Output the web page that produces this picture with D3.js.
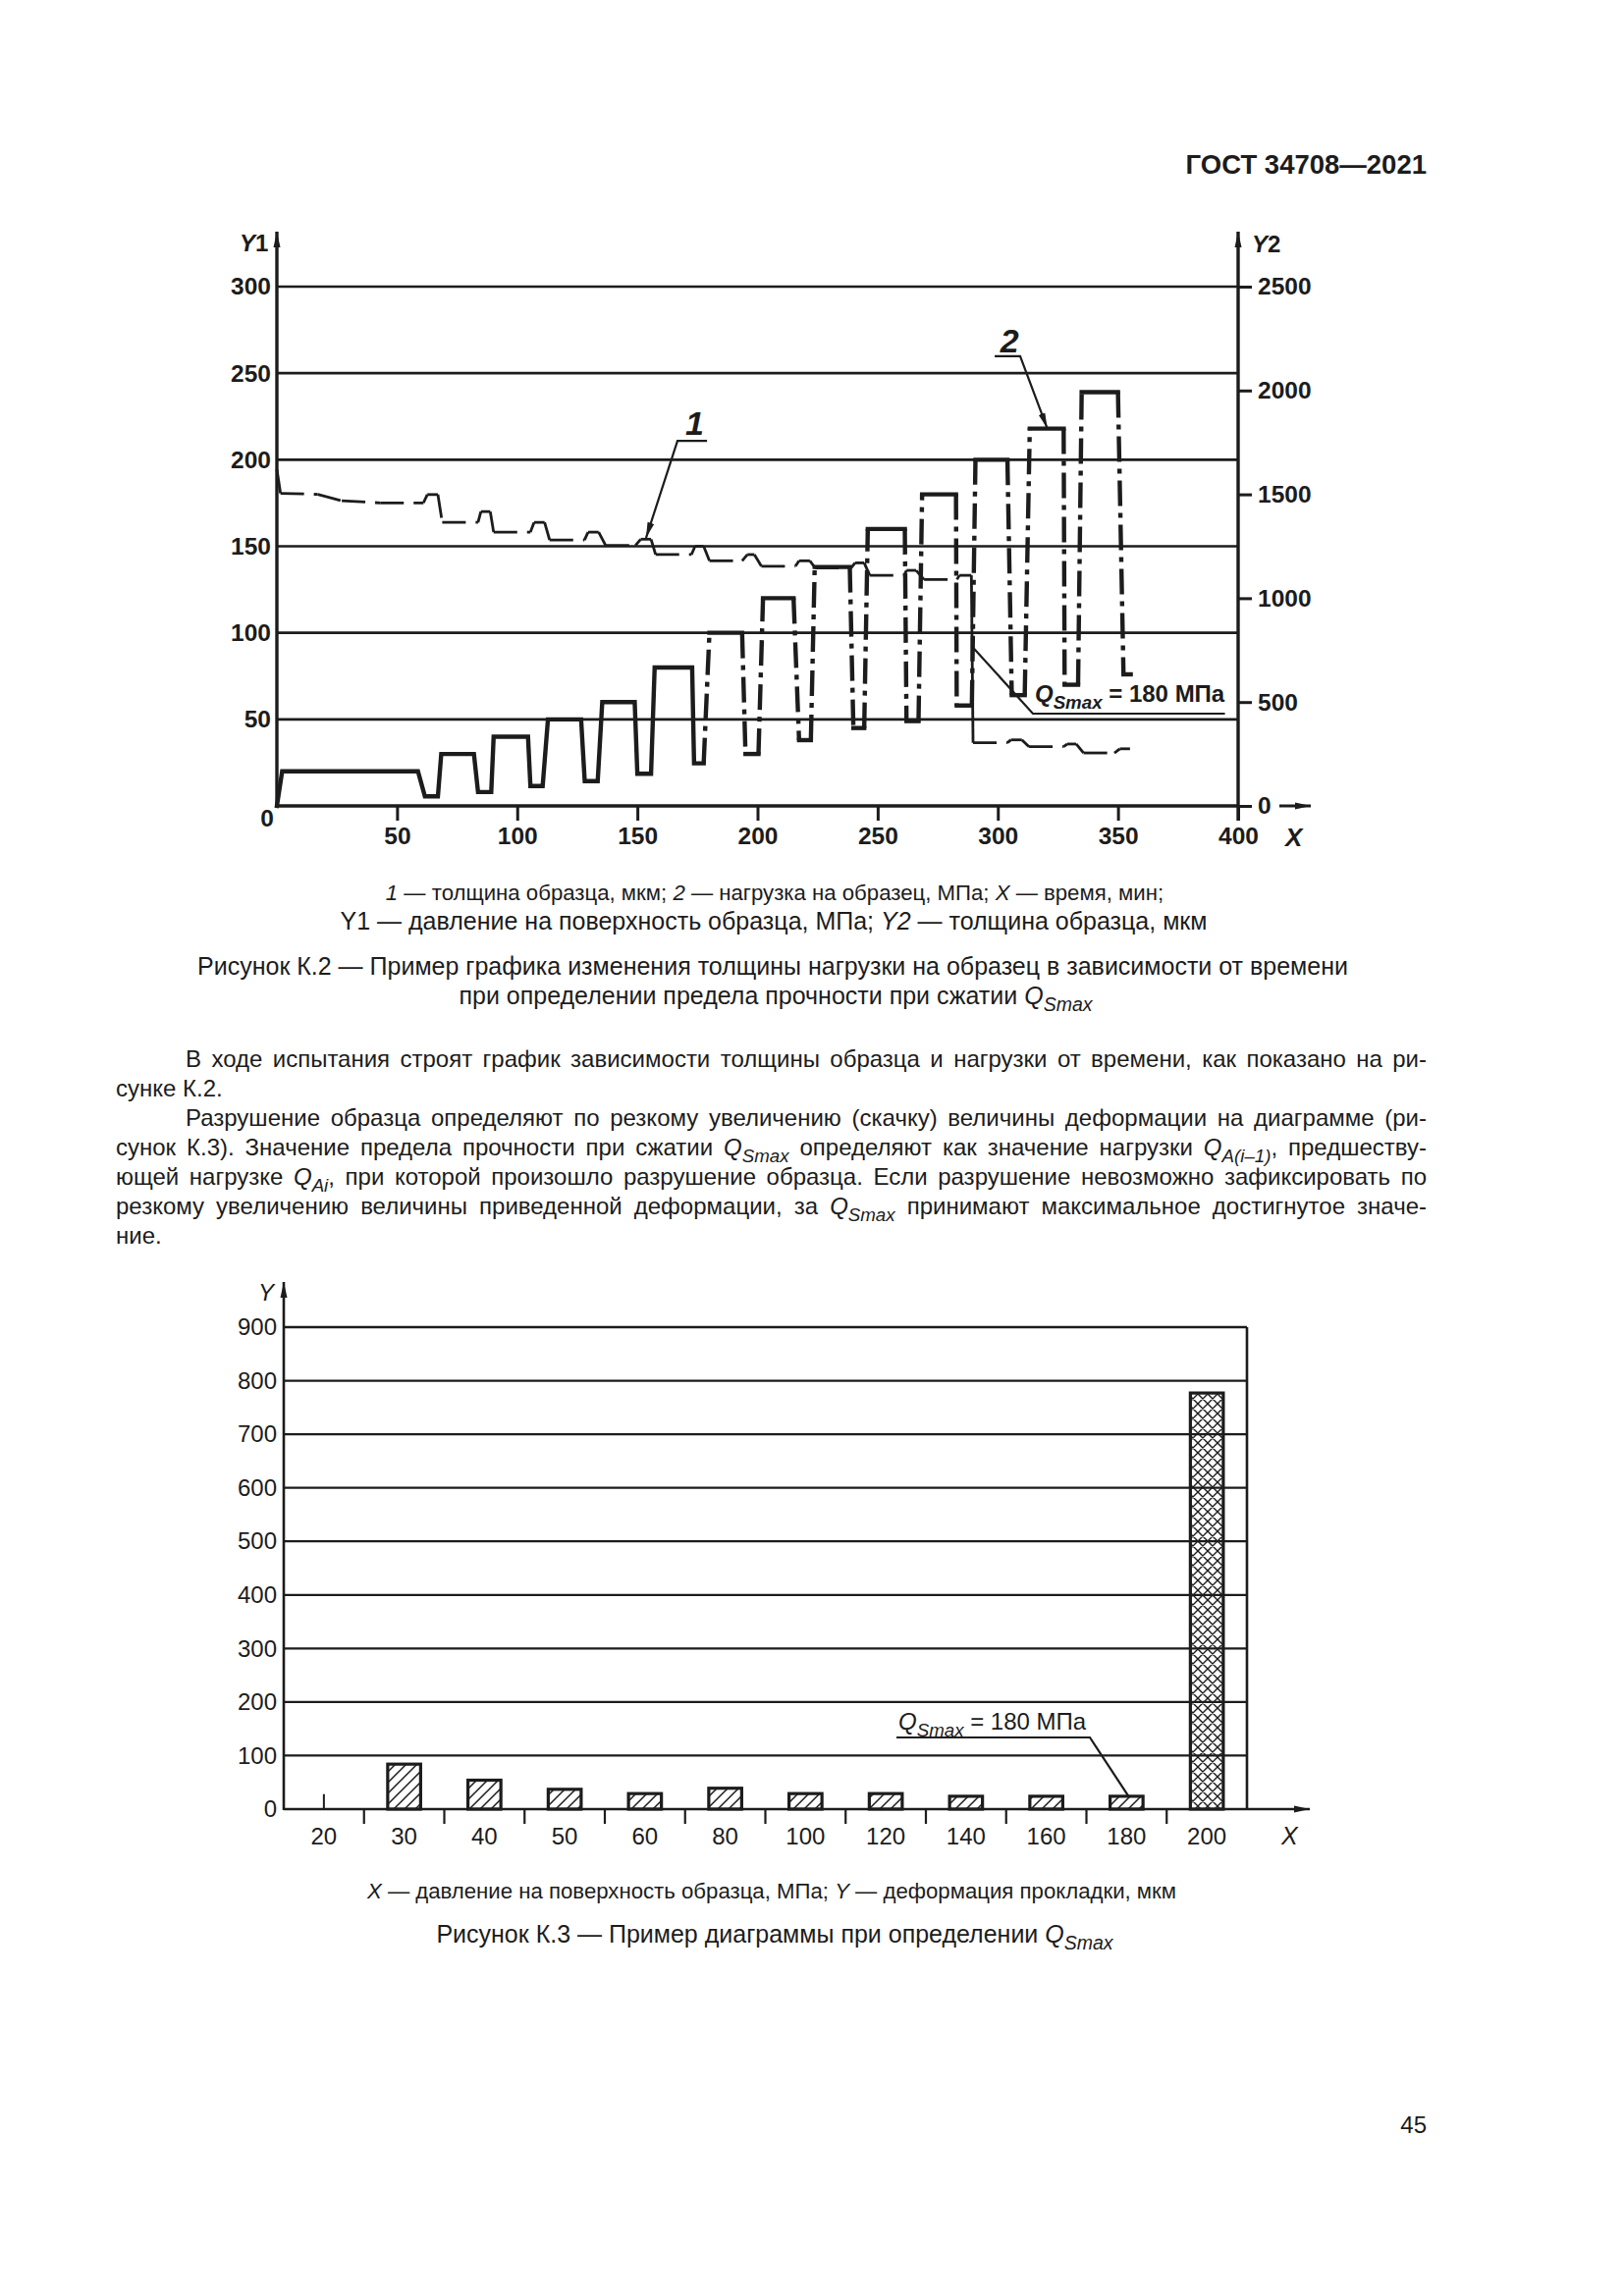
<!DOCTYPE html>
<meta charset="utf-8">
<style>
    body { margin: 0; background: #fff; }
    svg { display: block; font-family: "Liberation Sans", Arial, sans-serif; }
</style>
<svg width="1654" height="2339"></svg>
<script src="https://d3js.org/d3.v7.min.js"></script>

<script>
    // Рисунок К.2: нагрузка (Y1, МПа) и толщина образца (Y2, мкм) по времени (мин)
    var loadTime = [0, 2.2, 58.7, 61.6, 67, 68.4, 82, 83.7, 89.2, 90.2, 104.5, 105.5, 110.6, 112.8,
        126.6, 128.1, 133.5, 135.4, 148.9, 150, 155.7, 157.2, 172.8, 173.6, 177.6, 180, 193.6, 195,
        200.4, 202.3, 215, 217.3, 222.2, 223.8, 238.4, 239.9, 244.4, 245.9, 261.3, 262, 267, 268.5,
        282.6, 282.9, 289.2, 290.7, 304, 305.8, 311.2, 313.3, 327.4, 327.8, 333.4, 334.9, 350, 352.3, 355.3];
    var loadValue = [0, 20, 20, 5.5, 5.5, 30, 30, 8, 8, 40, 40, 11.5, 11.5, 50,
        50, 14.3, 14.3, 60, 60, 18.6, 18.6, 80, 80, 24.6, 24.6, 100, 100, 30,
        30, 120, 120, 38, 38, 138, 138, 45, 45, 160, 160, 49, 49, 180,
        180, 58, 58, 200, 200, 64, 64, 218, 218, 70, 70, 239, 239, 76, 76];

    var thickTime = [0, 1.5, 17, 27, 43, 61, 62.6, 67, 68.8, 83.7, 84.9, 88.8, 90.2, 105.5, 107, 111.4,
        113.5, 128, 129.5, 133.9, 136.8, 149.2, 151.4, 155.7, 157.6, 172.5, 174, 177.6, 180, 193.6,
        195.8, 198.7, 201.6, 215.8, 217.3, 221.8, 224, 239, 240.6, 244.4, 246.7, 261, 262, 266,
        269.3, 283, 284, 289, 289.7, 304, 305.5, 310, 313, 327.4, 328.9, 332.6, 335.7, 348.5, 350.8, 355];
    var thickValue = [1620, 1505, 1500, 1469, 1459, 1459, 1499, 1499, 1365, 1365, 1417, 1417, 1318, 1318, 1365, 1365,
        1280, 1280, 1318, 1318, 1254, 1254, 1284, 1284, 1210, 1210, 1250, 1250, 1180, 1180,
        1210, 1210, 1154, 1154, 1180, 1180, 1146, 1146, 1170, 1170, 1110, 1110, 1134, 1134,
        1090, 1090, 1110, 1110, 304, 304, 318, 318, 285, 285, 298, 298, 255, 255, 275, 275];

    var timeTicks = [50, 100, 150, 200, 250, 300, 350, 400];
    var y1Ticks = [50, 100, 150, 200, 250, 300];
    var y2Ticks = [0, 500, 1000, 1500, 2000, 2500];

    // Рисунок К.3: деформация прокладки (мкм) по давлению (МПа)
    var pressures = ["20", "30", "40", "50", "60", "80", "100", "120", "140", "160", "180", "200"];
    var deformation = [28, 84, 54, 37, 29, 39, 29, 29, 24, 24, 24, 777];
    var defTicks = [0, 100, 200, 300, 400, 500, 600, 700, 800, 900];
</script>

<script>
    var svg = d3.select("svg");
    var ink = "#1c1c1c";

    svg.append("rect").attr("width", 1654).attr("height", 2339).attr("fill", "#fff");

    var defs = svg.append("defs");
    defs.append("marker").attr("id", "arr")
        .attr("viewBox", "0 0 16 8").attr("refX", 16).attr("refY", 4)
        .attr("markerWidth", 16).attr("markerHeight", 8)
        .attr("markerUnits", "userSpaceOnUse").attr("orient", "auto")
        .append("path").attr("d", "M0,0.5L16,4L0,7.5Z").attr("fill", ink);

    var hatch = defs.append("pattern").attr("id", "hatch")
        .attr("patternUnits", "userSpaceOnUse").attr("width", 11).attr("height", 11);
    hatch.append("path").attr("d", "M0,11L11,0M-2,2L2,-2M9,13L13,9")
        .attr("stroke", ink).attr("stroke-width", 1.5);

    var cross = defs.append("pattern").attr("id", "cross")
        .attr("patternUnits", "userSpaceOnUse").attr("width", 10).attr("height", 10);
    cross.append("path").attr("d", "M0,10L10,0M-2,2L2,-2M8,12L12,8M0,0L10,10M-2,8L2,12M8,-2L12,2")
        .attr("stroke", ink).attr("stroke-width", 1.4);

    // ---- текстовые помощники ----
    function rich(g, parts, size, weight) {
        var t = g.append("text").attr("font-size", size).attr("fill", ink);
        if (weight) t.attr("font-weight", weight);
        var shift = 0;
        parts.forEach(function (p) {
            var f = p[1] || "";
            var want = f.indexOf("s") >= 0 ? size * 0.28 : 0;
            var s = t.append("tspan").text(p[0]);
            if (want !== shift) s.attr("dy", want - shift);
            shift = want;
            if (f.indexOf("i") >= 0) s.attr("font-style", "italic");
            if (f.indexOf("s") >= 0) s.attr("font-size", size * 0.78);
        });
        return t;
    }

    function justify(t, width) {
        var n = (t.text().match(/ /g) || []).length;
        var len = t.node().getComputedTextLength();
        if (n) t.attr("word-spacing", (width - len) / n);
    }

    // ---- колонтитул ----
    svg.append("text").attr("x", 1453).attr("y", 177).attr("text-anchor", "end")
        .attr("font-size", 27.5).attr("font-weight", "bold").attr("fill", ink)
        .text("ГОСТ 34708—2021");

    // ================= Рисунок К.2 =================
    var x = d3.scaleLinear().domain([0, 400]).range([282, 1261]);
    var y1 = d3.scaleLinear().domain([0, 300]).range([821, 292]);
    var y2 = d3.scaleLinear().domain([0, 2500]).range([821, 292]);

    var fig2 = svg.append("g");

    fig2.selectAll("line.grid").data(y1Ticks).enter().append("line")
        .attr("x1", x(0)).attr("x2", x(400))
        .attr("y1", function (d) { return y1(d); }).attr("y2", function (d) { return y1(d); })
        .attr("stroke", ink).attr("stroke-width", 2.6);

    var xAxis = fig2.append("g").attr("transform", "translate(0," + y1(0) + ")")
        .call(d3.axisBottom(x).tickValues(timeTicks).tickSize(15).tickSizeOuter(0).tickPadding(7));
    xAxis.select(".domain").remove();
    xAxis.selectAll("line").attr("stroke", ink).attr("stroke-width", 3);
    xAxis.selectAll("text").attr("font-size", 24.5).attr("font-weight", "bold").attr("fill", ink)
        .attr("font-family", null);

    var y1Axis = fig2.append("g").attr("transform", "translate(" + (x(0) - 6) + ",0)")
        .call(d3.axisLeft(y1).tickValues(y1Ticks).tickSize(0).tickPadding(0));
    y1Axis.select(".domain").remove();
    y1Axis.selectAll("text").attr("font-size", 24.5).attr("font-weight", "bold").attr("fill", ink)
        .attr("font-family", null);

    var y2Axis = fig2.append("g").attr("transform", "translate(" + x(400) + ",0)")
        .call(d3.axisRight(y2).tickValues(y2Ticks).tickFormat(d3.format("d")).tickSize(14).tickPadding(6));
    y2Axis.select(".domain").remove();
    y2Axis.selectAll("line").attr("stroke", ink).attr("stroke-width", 3);
    y2Axis.selectAll("text").attr("font-size", 24.5).attr("font-weight", "bold").attr("fill", ink)
        .attr("font-family", null);

    // оси со стрелками
    fig2.append("line").attr("x1", x(0)).attr("x2", x(400)).attr("y1", y1(0)).attr("y2", y1(0))
        .attr("stroke", ink).attr("stroke-width", 3.4);
    fig2.append("line").attr("x1", x(0)).attr("x2", x(0)).attr("y1", y1(0) + 1).attr("y2", 236)
        .attr("stroke", ink).attr("stroke-width", 3.4).attr("marker-end", "url(#arr)");
    fig2.append("line").attr("x1", x(400)).attr("x2", x(400)).attr("y1", y1(0) + 15).attr("y2", 236)
        .attr("stroke", ink).attr("stroke-width", 3.4).attr("marker-end", "url(#arr)");
    fig2.append("line").attr("x1", x(400) + 42).attr("x2", x(400) + 74).attr("y1", y1(0)).attr("y2", y1(0))
        .attr("stroke", ink).attr("stroke-width", 3).attr("marker-end", "url(#arr)");

    fig2.append("text").attr("x", x(0) - 10).attr("y", y1(0) + 21).attr("text-anchor", "middle")
        .attr("font-size", 24.5).attr("font-weight", "bold").attr("fill", ink).text("0");
    rich(fig2, [["Y", "i"], ["1"]], 24, "bold").attr("x", x(0) - 38).attr("y", 256);
    rich(fig2, [["Y", "i"], ["2"]], 24, "bold").attr("x", x(400) + 14).attr("y", 257);
    rich(fig2, [["X", "i"]], 26, "bold").attr("x", x(400) + 48).attr("y", 862);

    // кривая 1 — толщина (штриховая)
    var lineT = d3.line().x(function (d) { return x(d[0]); }).y(function (d) { return y2(d[1]); });
    var thickPts = thickTime.map(function (t, i) { return [t, thickValue[i]]; });
    for (var i = 0; i < thickPts.length - 1; i++) {
        var a = thickPts[i], b = thickPts[i + 1];
        var big = Math.abs(b[1] - a[1]) > 500 || i === 0;
        fig2.append("path").attr("d", lineT([a, b])).attr("fill", "none")
            .attr("stroke", ink).attr("stroke-width", 2.8)
            .attr("stroke-dasharray", big ? null : "24,10");
    }

    // кривая 2 — нагрузка (сплошная, подъёмы и сбросы после 175 мин штрихпунктиром)
    var lineL = d3.line().x(function (d) { return x(d[0]); }).y(function (d) { return y1(d[1]); });
    var loadPts = loadTime.map(function (t, i) { return [t, loadValue[i]]; });
    var run = [loadPts[0]];
    function flush() {
        if (run.length > 1)
            fig2.append("path").attr("d", lineL(run)).attr("fill", "none").attr("stroke", ink)
                .attr("stroke-width", 4.4).attr("stroke-linejoin", "miter").attr("stroke-linecap", "square");
    }
    for (i = 0; i < loadPts.length - 1; i++) {
        a = loadPts[i]; b = loadPts[i + 1];
        if (Math.abs(b[1] - a[1]) > 5 && a[0] >= 175) {
            flush();
            fig2.append("path").attr("d", lineL([a, b])).attr("fill", "none").attr("stroke", ink)
                .attr("stroke-width", 4.4).attr("stroke-dasharray", "26,7,5,7");
            run = [b];
        } else {
            run.push(b);
        }
    }
    flush();

    // выноски
    function leader(g, pts, arrow) {
        g.append("path").attr("d", d3.line()(pts)).attr("fill", "none")
            .attr("stroke", ink).attr("stroke-width", 2.2)
            .attr("marker-end", arrow ? "url(#arr)" : null);
    }
    leader(fig2, [[x(179), y1(210.9)], [x(166.7), y1(210.9)], [x(153.6), y1(154.8)]], true);
    rich(fig2, [["1", "i"]], 34, "bold").attr("x", x(170)).attr("y", y1(214.5));
    leader(fig2, [[x(298.7), y1(259.8)], [x(309.3), y1(259.8)], [x(320.6), y1(218)]], true);
    rich(fig2, [["2", "i"]], 34, "bold").attr("x", x(301)).attr("y", y1(262));
    leader(fig2, [[x(289.7), y1(91.5)], [x(314.6), y1(53.3)], [x(394.5), y1(53.3)]], false);
    rich(fig2, [["Q", "i"], ["Smax", "si"], [" = 180 МПа"]], 24, "bold")
        .attr("x", x(314.6) + 2).attr("y", y1(60));

    // подписи к рисунку К.2
    rich(svg, [["1", "i"], [" — толщина образца, мкм; "], ["2", "i"], [" — нагрузка на образец, МПа; "],
        ["X", "i"], [" — время, мин;"]], 22.2).attr("x", 789).attr("y", 917).attr("text-anchor", "middle");
    rich(svg, [["Y1"], [" — давление на поверхность образца, МПа; "], ["Y2", "i"],
        [" — толщина образца, мкм"]], 25).attr("x", 788).attr("y", 947).attr("text-anchor", "middle");
    rich(svg, [["Рисунок К.2 — Пример графика изменения толщины нагрузки на образец в зависимости от времени"]], 25)
        .attr("x", 787).attr("y", 993).attr("text-anchor", "middle");
    rich(svg, [["при определении предела прочности при сжатии "], ["Q", "i"], ["Smax", "si"]], 25)
        .attr("x", 790).attr("y", 1023).attr("text-anchor", "middle");

    // ---- текст ----
    var body = [
        {x: 189, y: 1087, just: true, parts: [["В ходе испытания строят график зависимости толщины образца и нагрузки от времени, как показано на ри-"]]},
        {x: 118, y: 1117, parts: [["сунке К.2."]]},
        {x: 189, y: 1147, just: true, parts: [["Разрушение образца определяют по резкому увеличению (скачку) величины деформации на диаграмме (ри-"]]},
        {x: 118, y: 1177, just: true, parts: [["сунок К.3). Значение предела прочности при сжатии "], ["Q", "i"], ["Smax", "si"],
            [" определяют как значение нагрузки "], ["Q", "i"], ["A(i–1)", "si"], [", предшеству-"]]},
        {x: 118, y: 1207, just: true, parts: [["ющей нагрузке "], ["Q", "i"], ["Ai", "si"],
            [", при которой произошло разрушение образца. Если разрушение невозможно зафиксировать по"]]},
        {x: 118, y: 1237, just: true, parts: [["резкому увеличению величины приведенной деформации, за "], ["Q", "i"], ["Smax", "si"],
            [" принимают максимальное достигнутое значе-"]]},
        {x: 118, y: 1267, parts: [["ние."]]}
    ];
    body.forEach(function (l) {
        var t = rich(svg, l.parts, 24).attr("x", l.x).attr("y", l.y);
        if (l.just) justify(t, 1453 - l.x);
    });

    // ================= Рисунок К.3 =================
    var xb = d3.scaleBand().domain(pressures).range([289, 1270]).padding(0);
    var yb = d3.scaleLinear().domain([0, 900]).range([1843, 1352]);
    var bw = xb.bandwidth(), barW = bw * 0.41;

    var fig3 = svg.append("g");
    fig3.selectAll("line.grid").data(defTicks.slice(1)).enter().append("line")
        .attr("x1", xb.range()[0]).attr("x2", xb.range()[1])
        .attr("y1", function (d) { return yb(d); }).attr("y2", function (d) { return yb(d); })
        .attr("stroke", ink).attr("stroke-width", 2.3);
    fig3.append("line").attr("x1", xb.range()[1]).attr("x2", xb.range()[1])
        .attr("y1", yb(900)).attr("y2", yb(0)).attr("stroke", ink).attr("stroke-width", 2.6);

    var ybAxis = fig3.append("g").attr("transform", "translate(" + (xb.range()[0] - 7) + ",0)")
        .call(d3.axisLeft(yb).tickValues(defTicks).tickSize(0).tickPadding(0));
    ybAxis.select(".domain").remove();
    ybAxis.selectAll("text").attr("font-size", 24).attr("fill", ink).attr("font-family", null);

    // границы интервалов под осью X
    fig3.selectAll("line.sep").data(pressures.slice(1)).enter().append("line")
        .attr("x1", function (d) { return xb(d); }).attr("x2", function (d) { return xb(d); })
        .attr("y1", yb(0)).attr("y2", yb(0) + 15).attr("stroke", ink).attr("stroke-width", 2.2);
    fig3.selectAll("text.cat").data(pressures).enter().append("text")
        .attr("x", function (d) { return xb(d) + bw / 2; }).attr("y", 1879)
        .attr("text-anchor", "middle").attr("font-size", 24).attr("fill", ink)
        .text(function (d) { return d; });

    var lineOnly = "20", crossed = "200";
    pressures.forEach(function (c, i) {
        var v = deformation[i];
        if (c === lineOnly) {
            fig3.append("line").attr("x1", xb(c) + bw / 2).attr("x2", xb(c) + bw / 2)
                .attr("y1", yb(0)).attr("y2", yb(v)).attr("stroke", ink).attr("stroke-width", 2);
            return;
        }
        fig3.append("rect").attr("x", xb(c) + (bw - barW) / 2).attr("y", yb(v))
            .attr("width", barW).attr("height", yb(0) - yb(v))
            .attr("fill", c === crossed ? "url(#cross)" : "url(#hatch)")
            .attr("stroke", ink).attr("stroke-width", 3.2);
    });

    fig3.append("line").attr("x1", xb.range()[0]).attr("x2", 1334).attr("y1", yb(0)).attr("y2", yb(0))
        .attr("stroke", ink).attr("stroke-width", 2.6).attr("marker-end", "url(#arr)");
    fig3.append("line").attr("x1", xb.range()[0]).attr("x2", xb.range()[0]).attr("y1", yb(0) + 1).attr("y2", 1306)
        .attr("stroke", ink).attr("stroke-width", 2.6).attr("marker-end", "url(#arr)");
    rich(fig3, [["Y", "i"]], 24).attr("x", 263).attr("y", 1325);
    rich(fig3, [["X", "i"]], 25).attr("x", 1305).attr("y", 1879);

    var q180 = pressures.indexOf("180");
    leader(fig3, [[913, 1770], [1110, 1770], [xb("180") + bw / 2 + 2, yb(deformation[q180])]], false);
    rich(fig3, [["Q", "i"], ["Smax", "si"], [" = 180 МПа"]], 24).attr("x", 915).attr("y", 1762);

    rich(svg, [["X", "i"], [" — давление на поверхность образца, МПа; "], ["Y", "i"],
        [" — деформация прокладки, мкм"]], 22.2).attr("x", 786).attr("y", 1934).attr("text-anchor", "middle");
    rich(svg, [["Рисунок К.3 — Пример диаграммы при определении "], ["Q", "i"], ["Smax", "si"]], 25)
        .attr("x", 789).attr("y", 1979).attr("text-anchor", "middle");

    svg.append("text").attr("x", 1453).attr("y", 2173).attr("text-anchor", "end")
        .attr("font-size", 24).attr("fill", ink).text("45");
</script>
